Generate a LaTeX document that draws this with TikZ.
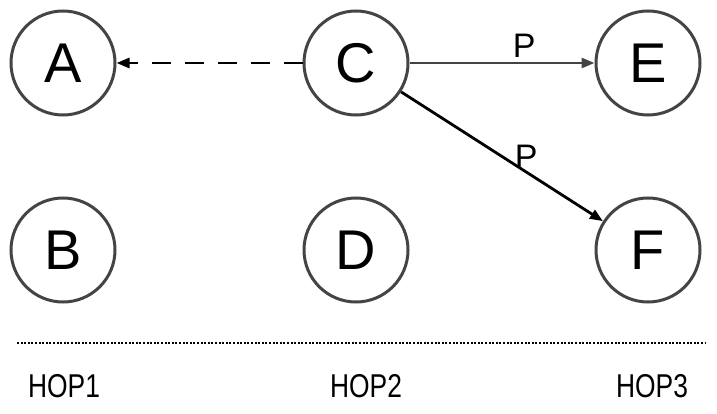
\documentclass[tikz,border=0pt]{standalone}
\usepackage{fontspec}
\setmainfont{Liberation Sans}
\newfontfamily\narrowfont[FakeStretch=0.8]{Liberation Sans}
\usetikzlibrary{arrows.meta}
\definecolor{cgray}{HTML}{444444}
\begin{document}
\begin{tikzpicture}[x=1pt,y=-1pt,
  hopnode/.style={circle,draw=cgray,line width=3pt,minimum size=104pt,inner sep=0pt,font=\fontsize{56}{60}\selectfont},
  lbl/.style={font=\fontsize{34}{38}\selectfont,inner sep=1pt,anchor=south,text=black},
  hoplbl/.style={font=\narrowfont\fontsize{33}{36}\selectfont},
  conn/.style={line width=2.8pt,-{Triangle[length=13pt,width=10pt]}}]
\useasboundingbox (0,0) rectangle (717,414);
\node[hopnode] (A) at (63,63) {A};
\node[hopnode] (B) at (63,250) {B};
\node[hopnode] (C) at (356,63) {C};
\node[hopnode] (D) at (356,250) {D};
\node[hopnode] (E) at (648,63) {E};
\node[hopnode] (F) at (648,250) {F};
\draw[conn,black,dash pattern=on 19pt off 14pt] (C) -- (A);
\draw[conn,cgray] (C) -- node[lbl,pos=0.62,yshift=3pt] (p1) {P} (E);
\draw[conn,black] (C) -- node[lbl,pos=0.62,yshift=1pt] (p2) {P} (F);
\coordinate (l1) at (17,343);
\coordinate (l2) at (705,343);
\draw[line width=1.8pt,dash pattern=on 2pt off 1.6pt] (l1) -- (l2);
\node[hoplbl] (h1) at (64,386) {HOP1};
\node[hoplbl] (h2) at (366,386) {HOP2};
\node[hoplbl] (h3) at (652,386) {HOP3};
\end{tikzpicture}
\end{document}
